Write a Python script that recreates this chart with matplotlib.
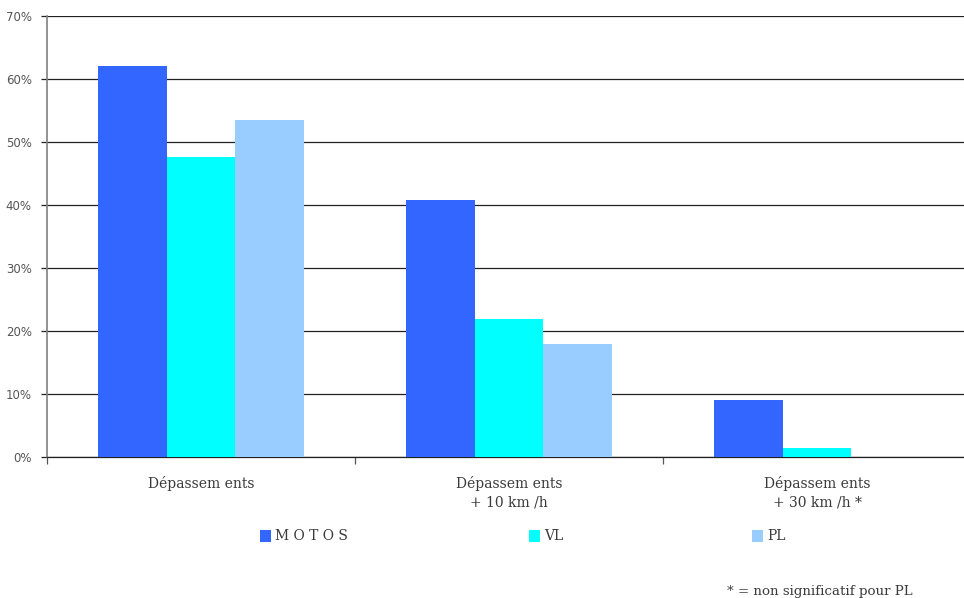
import matplotlib
matplotlib.use("Agg")
import matplotlib.pyplot as plt
import numpy as np
from matplotlib.patches import Rectangle

categories = ["Dépassem ents", "Dépassem ents\n+ 10 km /h", "Dépassem ents\n+ 30 km /h *"]
series_names = ["M O T O S", "VL", "PL"]
motos = [62.0, 40.8, 9.0]
vl = [47.6, 21.9, 1.4]
pl = [53.5, 17.9, 0.0]
y_ticks = [0, 10, 20, 30, 40, 50, 60, 70]
y_tick_labels = ["0%", "10%", "20%", "30%", "40%", "50%", "60%", "70%"]
footnote = "* = non significatif pour PL"

colors = ["#3366FF", "#00FFFF", "#99CCFF"]
text_font = "DejaVu Serif"
text_color = "#3a3a3a"

W, H = 964, 598
fig = plt.figure(figsize=(W / 100, H / 100), dpi=100)
left, right, top, bottom = 47, 971, 16, 457
ax = fig.add_axes([left / W, 1 - bottom / H, (right - left) / W, (bottom - top) / H])

x = np.arange(len(categories))
bw = 0.222
for i, vals in enumerate([motos, vl, pl]):
    ax.bar(x + (i - 1) * bw, vals, width=bw, color=colors[i], linewidth=0, zorder=3)

ax.set_xlim(-0.5, len(categories) - 0.5)
ax.set_ylim(0, 70)
ax.set_yticks(y_ticks)
ax.set_yticklabels(y_tick_labels, fontsize=8.5, color="#555555", family="DejaVu Sans")
ax.yaxis.grid(True, color="#222222", linewidth=0.9, zorder=1)
ax.tick_params(axis="y", length=4, width=0.9, color="#222222", pad=7)

# category separators on the x axis
ax.set_xticks([-0.5, 0.5, 1.5])
ax.set_xticklabels([])
ax.tick_params(axis="x", length=5, width=0.9, color="#555555")
for xi, lab in zip(x, categories):
    ax.text(xi, -3.0, lab, ha="center", va="top", fontsize=10, family=text_font,
            color=text_color, linespacing=1.43)

for s in ["top", "right"]:
    ax.spines[s].set_visible(False)
ax.spines["left"].set_color("#808080")
ax.spines["left"].set_linewidth(1.2)
ax.spines["bottom"].set_color("#222222")
ax.spines["bottom"].set_linewidth(0.9)

# legend drawn in figure pixels
legend_x = [260, 529, 752]
for lx, name, c in zip(legend_x, series_names, colors):
    fig.patches.append(Rectangle((lx / W, 1 - 542 / H), 11 / W, 12 / H, transform=fig.transFigure,
                                 color=c, linewidth=0))
    fig.text((lx + 15) / W, 1 - 536 / H, name, fontsize=10, family=text_font,
             color=text_color, va="center", ha="left")

fig.text(727 / W, 1 - 591 / H, footnote, fontsize=9.6, family=text_font,
         color=text_color, va="center", ha="left")

fig.savefig("out.png", dpi=100)
